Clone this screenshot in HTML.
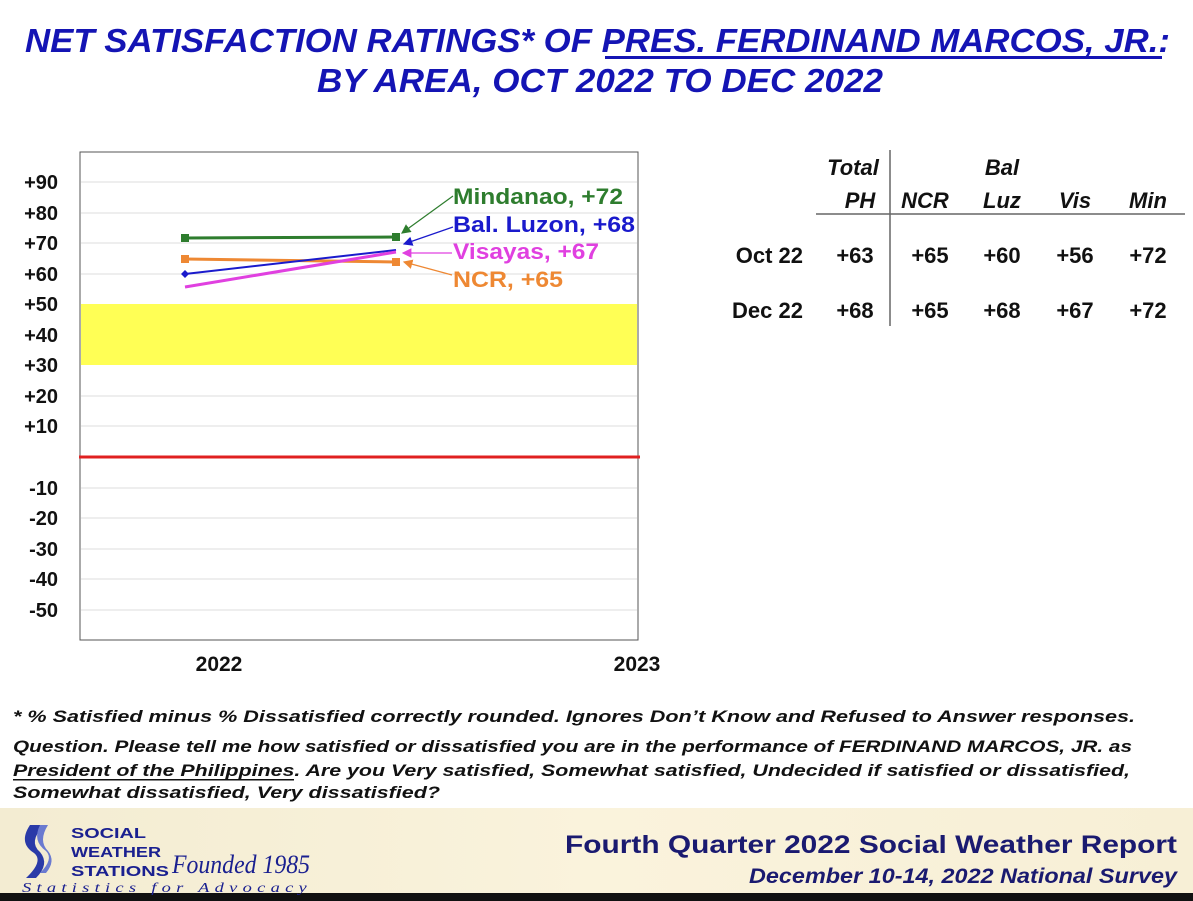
<!DOCTYPE html>
<html><head><meta charset="utf-8"><style>
html,body{margin:0;padding:0;background:#fff;}
svg{display:block;font-family:"Liberation Sans",Arial,sans-serif;}
</style></head><body>
<svg width="1193" height="901" viewBox="0 0 1193 901" xmlns="http://www.w3.org/2000/svg">
<defs>
<linearGradient id="ft" x1="0" y1="0" x2="1" y2="0"><stop offset="0" stop-color="#f3ecd2"/><stop offset="0.5" stop-color="#faf3dc"/><stop offset="1" stop-color="#f7efd6"/></linearGradient>
<marker id="ag" markerWidth="8" markerHeight="8" refX="7" refY="4" orient="auto"><path d="M0,0L8,4L0,8z" fill="#2e7d2e"/></marker>
<marker id="ab" markerWidth="8" markerHeight="8" refX="7" refY="4" orient="auto"><path d="M0,0L8,4L0,8z" fill="#1a1acc"/></marker>
<marker id="am" markerWidth="8" markerHeight="8" refX="7" refY="4" orient="auto"><path d="M0,0L8,4L0,8z" fill="#e040e0"/></marker>
<marker id="ao" markerWidth="8" markerHeight="8" refX="7" refY="4" orient="auto"><path d="M0,0L8,4L0,8z" fill="#ee8833"/></marker>
</defs>
<!-- title -->
<g fill="#1414b4" font-weight="bold" font-style="italic" font-size="33">
<text x="25" y="52" textLength="1145" lengthAdjust="spacingAndGlyphs">NET SATISFACTION RATINGS* OF PRES. FERDINAND MARCOS, JR.:</text>
<text x="317" y="92" textLength="566" lengthAdjust="spacingAndGlyphs">BY AREA, OCT 2022 TO DEC 2022</text>
</g>
<rect x="605" y="56" width="557" height="3" fill="#1414b4"/>
<!-- plot -->
<rect x="80" y="152" width="558" height="488" fill="#fff" stroke="#555" stroke-width="1"/>
<rect x="81" y="304" width="556" height="61" fill="#ffff55"/>
<g stroke="#dcdcdc" stroke-width="1">
<line x1="81" x2="637" y1="182" y2="182"/><line x1="81" x2="637" y1="213" y2="213"/><line x1="81" x2="637" y1="243" y2="243"/><line x1="81" x2="637" y1="274" y2="274"/><line x1="81" x2="637" y1="396" y2="396"/><line x1="81" x2="637" y1="426" y2="426"/><line x1="81" x2="637" y1="488" y2="488"/><line x1="81" x2="637" y1="518" y2="518"/><line x1="81" x2="637" y1="549" y2="549"/><line x1="81" x2="637" y1="579" y2="579"/><line x1="81" x2="637" y1="610" y2="610"/>
</g>
<line x1="79" x2="640" y1="457" y2="457" stroke="#e02020" stroke-width="3"/>
<g font-weight="bold" font-size="20" fill="#111" text-anchor="end">
<text x="58" y="189">+90</text><text x="58" y="220">+80</text><text x="58" y="250">+70</text><text x="58" y="281">+60</text><text x="58" y="311">+50</text><text x="58" y="342">+40</text><text x="58" y="372">+30</text><text x="58" y="403">+20</text><text x="58" y="433">+10</text>
<text x="58" y="495">-10</text><text x="58" y="525">-20</text><text x="58" y="556">-30</text><text x="58" y="586">-40</text><text x="58" y="617">-50</text>
</g>
<g font-weight="bold" font-size="21" fill="#111" text-anchor="middle"><text x="219" y="671">2022</text><text x="637" y="671">2023</text></g>
<!-- series -->
<line x1="185" y1="238" x2="396" y2="237" stroke="#2e7d2e" stroke-width="3"/>
<rect x="181" y="234" width="8" height="8" fill="#2e7d2e"/><rect x="392" y="233" width="8" height="8" fill="#2e7d2e"/>
<line x1="185" y1="259" x2="396" y2="262" stroke="#ee8833" stroke-width="3"/>
<rect x="181" y="255" width="8" height="8" fill="#ee8833"/><rect x="392" y="258" width="8" height="8" fill="#ee8833"/>
<line x1="185" y1="274" x2="396" y2="250" stroke="#1a1acc" stroke-width="2"/>
<path d="M185,270l4,4l-4,4l-4,-4z" fill="#1a1acc"/>
<line x1="185" y1="287" x2="396" y2="252" stroke="#e040e0" stroke-width="3"/>
<!-- labels -->
<g stroke-width="1.2" fill="none">
<line x1="453" y1="196" x2="402" y2="233" stroke="#2e7d2e" marker-end="url(#ag)"/>
<line x1="453" y1="227" x2="404" y2="244" stroke="#1a1acc" marker-end="url(#ab)"/>
<line x1="452" y1="253" x2="403" y2="253" stroke="#e040e0" marker-end="url(#am)"/>
<line x1="452" y1="275" x2="404" y2="262" stroke="#ee8833" marker-end="url(#ao)"/>
</g>
<g font-weight="bold" font-size="22">
<text x="453" y="204" fill="#2e7d2e" textLength="170" lengthAdjust="spacingAndGlyphs">Mindanao, +72</text>
<text x="453" y="232" fill="#1a1acc" textLength="182" lengthAdjust="spacingAndGlyphs">Bal. Luzon, +68</text>
<text x="453" y="259" fill="#e040e0" textLength="146" lengthAdjust="spacingAndGlyphs">Visayas, +67</text>
<text x="453" y="287" fill="#ee8833" textLength="110" lengthAdjust="spacingAndGlyphs">NCR, +65</text>
</g>
<!-- table -->
<g font-weight="bold" font-size="22" fill="#111">
<g font-style="italic" text-anchor="middle">
<text x="853" y="175">Total</text><text x="860" y="208">PH</text>
<text x="925" y="208">NCR</text><text x="1002" y="175">Bal</text><text x="1002" y="208">Luz</text>
<text x="1075" y="208">Vis</text><text x="1148" y="208">Min</text>
</g>
<text x="803" y="263" text-anchor="end">Oct 22</text><text x="803" y="318" text-anchor="end">Dec 22</text>
<g text-anchor="middle">
<text x="855" y="263">+63</text><text x="930" y="263">+65</text><text x="1002" y="263">+60</text><text x="1075" y="263">+56</text><text x="1148" y="263">+72</text>
<text x="855" y="318">+68</text><text x="930" y="318">+65</text><text x="1002" y="318">+68</text><text x="1075" y="318">+67</text><text x="1148" y="318">+72</text>
</g>
</g>
<line x1="816" y1="214" x2="1185" y2="214" stroke="#666" stroke-width="1.5"/>
<line x1="890" y1="150" x2="890" y2="326" stroke="#666" stroke-width="1.5"/>
<!-- notes -->
<g font-weight="bold" font-style="italic" font-size="17" fill="#111">
<text x="13" y="722" textLength="1122" lengthAdjust="spacingAndGlyphs">* % Satisfied minus % Dissatisfied correctly rounded. Ignores Don’t Know and Refused to Answer responses.</text>
<text x="13" y="752" textLength="1119" lengthAdjust="spacingAndGlyphs">Question. Please tell me how satisfied or dissatisfied you are in the performance of FERDINAND MARCOS, JR. as</text>
<text x="13" y="776" textLength="1117" lengthAdjust="spacingAndGlyphs">President of the Philippines. Are you Very satisfied, Somewhat satisfied, Undecided if satisfied or dissatisfied,</text>
<text x="13" y="798" textLength="427" lengthAdjust="spacingAndGlyphs">Somewhat dissatisfied, Very dissatisfied?</text>
</g>
<rect x="13" y="779" width="281" height="1.5" fill="#111"/>
<!-- footer -->
<rect x="0" y="808" width="1193" height="85" fill="url(#ft)"/>
<rect x="0" y="893" width="1193" height="8" fill="#111"/>
<path d="M30,825 q-12,18 4,28 q10,8 -8,25 l10,0 q14,-14 4,-26 q-12,-10 4,-27z" fill="#2a3aa8"/>
<path d="M40,825 q-8,16 6,26 q8,8 -6,22 l6,0 q10,-12 2,-22 q-10,-10 0,-26z" fill="#6a7ad0"/>
<g font-weight="bold" font-size="15" fill="#1a2090">
<text x="71" y="838" textLength="75" lengthAdjust="spacingAndGlyphs">SOCIAL</text>
<text x="71" y="857" textLength="90" lengthAdjust="spacingAndGlyphs">WEATHER</text>
<text x="71" y="876" textLength="98" lengthAdjust="spacingAndGlyphs">STATIONS</text>
</g>
<text x="172" y="873" font-family="'Liberation Serif',serif" font-style="italic" font-size="26" fill="#1a2090" textLength="138" lengthAdjust="spacingAndGlyphs">Founded 1985</text>
<text x="22" y="892" font-family="'Liberation Serif',serif" font-style="italic" font-size="14" fill="#1a2090" letter-spacing="4" textLength="290" lengthAdjust="spacingAndGlyphs">Statistics for Advocacy</text>
<text x="1177" y="853" text-anchor="end" font-weight="bold" font-size="25" fill="#1a1a70" textLength="612" lengthAdjust="spacingAndGlyphs">Fourth Quarter 2022 Social Weather Report</text>
<text x="1177" y="883" text-anchor="end" font-weight="bold" font-style="italic" font-size="21" fill="#1a1a70" textLength="428" lengthAdjust="spacingAndGlyphs">December 10-14, 2022 National Survey</text>
</svg>
</body></html>
